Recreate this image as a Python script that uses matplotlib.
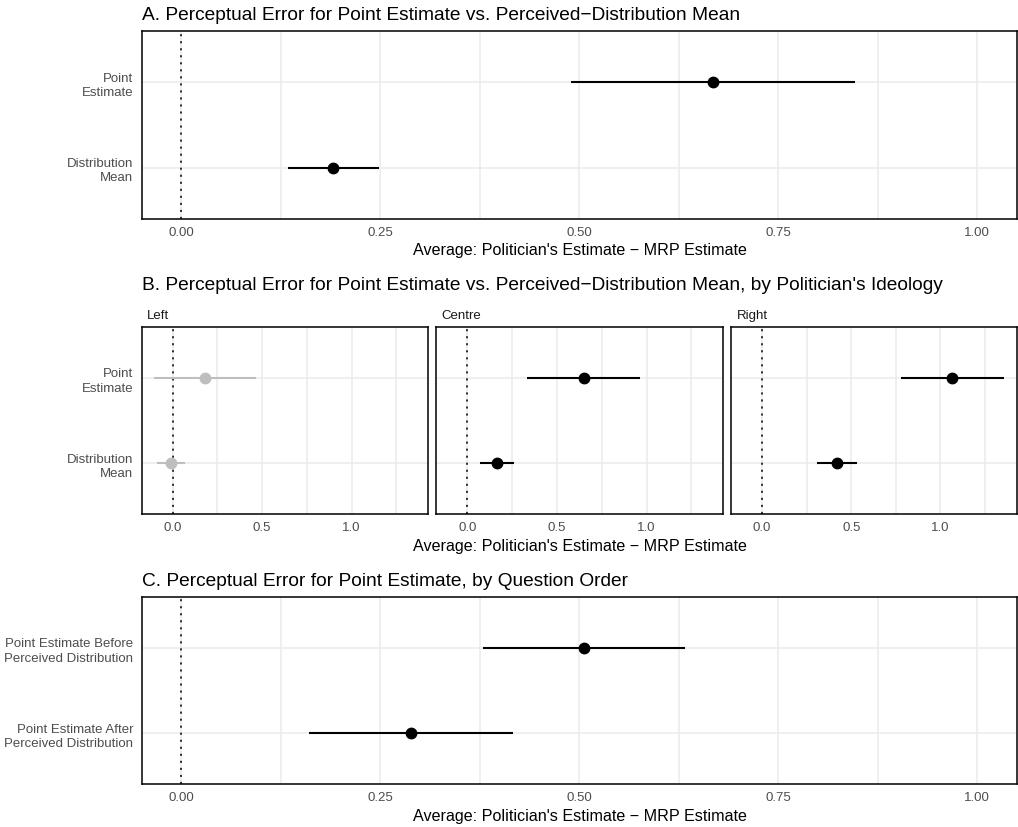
import matplotlib
matplotlib.use("Agg")
import matplotlib.pyplot as plt
from matplotlib.ticker import FixedLocator, FixedFormatter

plt.rcParams['font.family'] = ['Liberation Sans', 'DejaVu Sans']

# ---------------- data ----------------
cats_ab = ["Point\nEstimate", "Distribution\nMean"]
a_est = [0.668, 0.191]
a_lo = [0.490, 0.134]
a_hi = [0.846, 0.248]

facets = ["Left", "Centre", "Right"]
b_est = {"Left": [0.180, -0.010], "Centre": [0.652, 0.165], "Right": [1.067, 0.422]}
b_lo = {"Left": [-0.103, -0.088], "Centre": [0.335, 0.070], "Right": [0.780, 0.310]}
b_hi = {"Left": [0.464, 0.070], "Centre": [0.966, 0.262], "Right": [1.354, 0.532]}
b_color = {"Left": "#BEBEBE", "Centre": "black", "Right": "black"}

cats_c = ["Point Estimate Before\nPerceived Distribution", "Point Estimate After\nPerceived Distribution"]
c_est = [0.506, 0.289]
c_lo = [0.379, 0.160]
c_hi = [0.633, 0.417]

titles = ["A. Perceptual Error for Point Estimate vs. Perceived\u2212Distribution Mean",
          "B. Perceptual Error for Point Estimate vs. Perceived\u2212Distribution Mean, by Politician's Ideology",
          "C. Perceptual Error for Point Estimate, by Question Order"]
xlabel = "Average: Politician's Estimate \u2212 MRP Estimate"

# ---------------- layout ----------------
W, H = 1018, 828
fig = plt.figure(figsize=(W / 100, H / 100), dpi=100)
fig.patch.set_facecolor("white")

def ax_px(left, right, top, bottom):
    return fig.add_axes([left / W, 1 - bottom / H, (right - left) / W, (bottom - top) / H])

GRID = "#EBEBEB"
TICKC = "#4D4D4D"

def style(ax, xlim, major, minor, fmt, ylabels, show_y):
    ax.set_xlim(*xlim)
    ax.set_ylim(0.4, 2.6)
    ax.xaxis.set_major_locator(FixedLocator(major))
    ax.xaxis.set_major_formatter(FixedFormatter([fmt.format(v) for v in major]))
    ax.xaxis.set_minor_locator(FixedLocator(minor))
    ax.set_yticks([1, 2])
    if show_y:
        ax.set_yticklabels(ylabels[::-1], linespacing=1.25)
    else:
        ax.set_yticklabels([])
    ax.grid(True, which="major", color=GRID, lw=1.1, zorder=0)
    ax.grid(True, which="minor", axis="x", color=GRID, lw=1.1, zorder=0)
    ax.set_axisbelow(True)
    ax.tick_params(axis="both", which="both", length=0, labelsize=9.5, labelcolor=TICKC)
    ax.tick_params(axis="x", pad=5)
    ax.tick_params(axis="y", pad=6)
    for s in ax.spines.values():
        s.set_color("black")
        s.set_linewidth(1.1)
    ax.axvline(0, color="black", lw=1.1, ls=(0, (1.4, 3.2)), zorder=1)

def draw(ax, est, lo, hi, color):
    n = len(est)
    for i in range(n):
        y = n - i
        ax.plot([lo[i], hi[i]], [y, y], color=color, lw=1.5, solid_capstyle="butt", zorder=3)
        ax.plot([est[i]], [y], "o", color=color, ms=7.5, mec=color, zorder=4)

RIGHT = 1016.8
TITLE_FS = 13.8
LAB_FS = 11.6

# Panel A
axA = ax_px(141.7, RIGHT, 32, 220)
style(axA, (-0.05, 1.05), [0, 0.25, 0.5, 0.75, 1.0], [0.125, 0.375, 0.625, 0.875], "{:.2f}", cats_ab, True)
draw(axA, a_est, a_lo, a_hi, "black")
fig.text(141.7 / W, 1 - 20 / H, titles[0], fontsize=TITLE_FS, va="baseline", ha="left", color="black")
fig.text(579.5 / W, 1 - 255 / H, xlabel, fontsize=LAB_FS, va="baseline", ha="center", color="black")

# Panel B
bxl = -0.173
bxr = 1.428
facet_px = [(141.7, 428.3), (436.3, 723.3), (731.3, RIGHT)]
for j, f in enumerate(facets):
    l, r = facet_px[j]
    ax = ax_px(l, r, 327.7, 515.3)
    style(ax, (bxl, bxr), [0, 0.5, 1.0], [0.25, 0.75, 1.25], "{:.1f}", cats_ab, j == 0)
    draw(ax, b_est[f], b_lo[f], b_hi[f], b_color[f])
    fig.text((l + 5.5) / W, 1 - 319.3 / H, f, fontsize=9.5, va="baseline", ha="left", color="#1A1A1A")
fig.text(141.7 / W, 1 - 290.3 / H, titles[1], fontsize=TITLE_FS, va="baseline", ha="left", color="black")
fig.text(579.5 / W, 1 - 550.7 / H, xlabel, fontsize=LAB_FS, va="baseline", ha="center", color="black")

# Panel C
axC = ax_px(141.7, RIGHT, 597.7, 785.3)
style(axC, (-0.05, 1.05), [0, 0.25, 0.5, 0.75, 1.0], [0.125, 0.375, 0.625, 0.875], "{:.2f}", cats_c, True)
draw(axC, c_est, c_lo, c_hi, "black")
fig.text(141.7 / W, 1 - 585.7 / H, titles[2], fontsize=TITLE_FS, va="baseline", ha="left", color="black")
fig.text(579.5 / W, 1 - 820.7 / H, xlabel, fontsize=LAB_FS, va="baseline", ha="center", color="black")

fig.savefig("out.png", dpi=100, facecolor="white")
